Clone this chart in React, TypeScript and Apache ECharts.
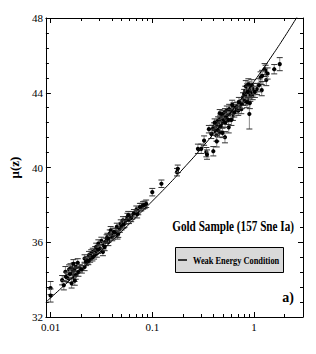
import React, { useEffect, useRef } from "react";
import * as echarts from "echarts";

// Supernova data (redshift z, distance modulus mu, error)
const zValues = [
  0.0100, 0.0100, 0.0130, 0.0135, 0.0140, 0.0142, 0.0150, 0.0152, 0.0157, 0.0161,
  0.0163, 0.0166, 0.0169, 0.0172, 0.0174, 0.0177, 0.0180, 0.0185, 0.0194, 0.0216,
  0.0216, 0.0223, 0.0231, 0.0239, 0.0245, 0.0251, 0.0260, 0.0268, 0.0275, 0.0281,
  0.0285, 0.0295, 0.0305, 0.0316, 0.0327, 0.0332, 0.0346, 0.0356, 0.0362, 0.0370,
  0.0382, 0.0390, 0.0404, 0.0413, 0.0433, 0.0448, 0.0455, 0.0463, 0.0480, 0.0490,
  0.0500, 0.0515, 0.0533, 0.0552, 0.0570, 0.0590, 0.0636, 0.0697, 0.0728, 0.0756,
  0.0780, 0.0811, 0.0871, 0.1000, 0.1230,
  0.0188, 0.0203, 0.0258, 0.0293, 0.0340, 0.0420, 0.0520, 0.0620, 0.0660, 0.0710,
  0.0840, 0.0155, 0.0173, 0.0168, 0.0235, 0.0370, 0.0580,
  0.175, 0.178, 0.281, 0.303, 0.323, 0.340, 0.345, 0.398, 0.389, 0.404,
  0.418, 0.427, 0.432, 0.443, 0.450, 0.458, 0.465, 0.475, 0.481, 0.491,
  0.500, 0.518, 0.518, 0.530, 0.540, 0.550, 0.564, 0.570, 0.590, 0.600,
  0.620, 0.630, 0.658, 0.680, 0.700, 0.730, 0.750, 0.760, 0.780, 0.800,
  0.810, 0.820, 0.840, 0.860, 0.870, 0.890, 0.900, 0.900, 0.920, 0.940,
  0.970, 0.980, 1.070, 1.190, 1.160, 1.320, 1.300, 1.270, 1.360, 1.580,
  1.790,
  0.41, 0.44, 0.47, 0.52, 0.46, 0.56, 0.61, 0.64, 0.71, 0.83,
  0.85, 0.88, 0.95, 0.87, 0.91, 0.38, 0.36, 0.43, 0.49, 0.60,
  1.02, 1.12, 1.20,
];
const muValues = [
  33.55, 33.15, 33.97, 33.70, 34.42, 34.15, 34.06, 34.54, 34.60, 33.80,
  34.33, 34.50, 34.68, 34.15, 34.50, 34.24, 34.68, 34.90, 34.60, 34.68,
  35.13, 34.95, 35.04, 35.31, 35.13, 35.40, 35.48, 35.30, 35.57, 35.75,
  35.40, 35.93, 35.66, 36.07, 35.48, 35.84, 36.02, 36.20, 36.28, 36.02,
  36.46, 36.64, 36.28, 36.37, 36.55, 36.82, 36.37, 36.46, 36.73, 37.00,
  36.86, 37.17, 37.00, 37.17, 37.35, 37.20, 37.44, 37.74, 37.67, 37.88,
  37.88, 37.97, 38.06, 38.68, 39.13,
  34.40, 34.55, 35.20, 35.60, 35.75, 36.55, 36.95, 37.30, 37.55, 37.50,
  38.00, 34.30, 33.95, 34.85, 35.00, 36.20, 37.45,
  39.75, 39.93, 41.00, 41.00, 41.44, 40.82, 40.69, 40.87, 42.06, 42.19,
  41.97, 41.71, 42.33, 42.51, 42.15, 41.88, 42.60, 42.77, 42.36, 42.86,
  42.54, 42.95, 41.62, 42.68, 43.04, 42.77, 42.15, 43.13, 42.86, 43.04,
  42.77, 43.22, 43.13, 43.25, 43.04, 43.31, 43.13, 43.40, 43.75, 43.93,
  43.57, 44.10, 43.84, 44.20, 43.66, 44.00, 44.28, 42.86, 43.84, 44.10,
  43.93, 44.20, 44.20, 44.14, 44.82, 44.68, 45.17, 45.26, 45.03, 45.26,
  45.53,
  42.40, 42.00, 42.20, 42.40, 42.90, 42.55, 43.35, 42.95, 43.50, 44.35,
  43.50, 44.45, 44.40, 44.05, 43.45, 41.80, 42.05, 41.40, 41.85, 42.55,
  44.05, 44.40, 44.90,
];
const muErrors = [
  0.35, 0.35, 0.25, 0.25, 0.28, 0.25, 0.22, 0.25, 0.25, 0.25,
  0.22, 0.22, 0.22, 0.25, 0.22, 0.22, 0.22, 0.22, 0.20, 0.20,
  0.20, 0.20, 0.20, 0.20, 0.20, 0.20, 0.20, 0.20, 0.20, 0.20,
  0.20, 0.20, 0.20, 0.20, 0.20, 0.20, 0.20, 0.20, 0.20, 0.20,
  0.20, 0.20, 0.20, 0.20, 0.20, 0.20, 0.20, 0.20, 0.20, 0.20,
  0.20, 0.20, 0.20, 0.20, 0.20, 0.20, 0.20, 0.20, 0.20, 0.20,
  0.20, 0.20, 0.20, 0.20, 0.20,
  0.22, 0.20, 0.20, 0.20, 0.20, 0.20, 0.20, 0.20, 0.20, 0.20,
  0.20, 0.25, 0.25, 0.22, 0.20, 0.20, 0.20,
  0.20, 0.20, 0.25, 0.25, 0.25, 0.25, 0.25, 0.25, 0.20, 0.20,
  0.25, 0.30, 0.20, 0.20, 0.20, 0.25, 0.20, 0.20, 0.20, 0.20,
  0.20, 0.20, 0.30, 0.25, 0.25, 0.25, 0.30, 0.25, 0.25, 0.25,
  0.25, 0.25, 0.25, 0.25, 0.25, 0.25, 0.25, 0.25, 0.25, 0.25,
  0.25, 0.25, 0.30, 0.30, 0.30, 0.30, 0.30, 0.80, 0.30, 0.30,
  0.30, 0.30, 0.30, 0.30, 0.30, 0.30, 0.30, 0.30, 0.30, 0.25,
  0.35,
  0.20, 0.20, 0.25, 0.25, 0.20, 0.25, 0.25, 0.25, 0.25, 0.30,
  0.30, 0.30, 0.30, 0.30, 0.30, 0.25, 0.20, 0.30, 0.25, 0.30,
  0.30, 0.35, 0.30,
];

// Weak Energy Condition curve
const lineZ = [0.009, 0.01, 0.015, 0.02, 0.03, 0.05, 0.07, 0.1, 0.15, 0.2, 0.3, 0.5, 0.7, 1.0, 1.5, 2.0, 2.6, 2.7];
const lineMu = [32.8, 33.02, 33.9, 34.53, 35.43, 36.58, 37.36, 38.2, 39.18, 39.92, 40.99, 42.45, 43.46, 44.6, 45.97, 47.0, 47.98, 48.12];

// Axis ticks
const xMajorTicks = [0.01, 0.1, 1];
const xTickLabels = ["0.01", "0.1", "1"];
const xMinorTicks = [
  0.02, 0.03, 0.04, 0.05, 0.06, 0.07, 0.08, 0.09,
  0.2, 0.3, 0.4, 0.5, 0.6, 0.7, 0.8, 0.9,
  2,
];
const yMin = 32;
const yMax = 48;
const yStep = 4;
const zMin = 0.009;
const zMax = 3.03;

const FONT = "Liberation Serif";

export default function App() {
  const ref = useRef<HTMLDivElement>(null);

  useEffect(() => {
    if (!ref.current) return;
    const chart = echarts.init(ref.current, null, { renderer: "svg" });
    const lg = (v: number) => Math.log10(v);
    const xmin = lg(zMin);
    const xmax = lg(zMax);
    const majorLog = xMajorTicks.map(lg);
    const minorLog = xMinorTicks.map(lg);
    const labelMap: Record<string, string> = {};
    majorLog.forEach((v, i) => (labelMap[v.toFixed(3)] = xTickLabels[i]));

    const baseX = {
      type: "value",
      min: xmin,
      max: xmax,
      splitLine: { show: false },
    };
    const xAxes = [
      {
        ...baseX,
        position: "bottom",
        axisLine: { show: true, onZero: false, lineStyle: { color: "#000", width: 1 } },
        axisTick: { show: true, inside: true, length: 5, customValues: majorLog, lineStyle: { color: "#000" } },
        axisLabel: {
          show: true,
          customValues: majorLog,
          formatter: (v: number) => labelMap[v.toFixed(3)] ?? "",
          color: "#000",
          fontFamily: FONT,
          fontSize: 11,
          margin: 4,
        },
      },
      {
        ...baseX,
        position: "bottom",
        axisLine: { show: false, onZero: false },
        axisTick: { show: true, inside: true, length: 3, customValues: minorLog, lineStyle: { color: "#000" } },
        axisLabel: { show: false },
      },
      {
        ...baseX,
        position: "top",
        axisLine: { show: true, onZero: false, lineStyle: { color: "#000", width: 1 } },
        axisTick: { show: true, inside: true, length: 5, customValues: majorLog, lineStyle: { color: "#000" } },
        axisLabel: { show: false },
      },
      {
        ...baseX,
        position: "top",
        axisLine: { show: false, onZero: false },
        axisTick: { show: true, inside: true, length: 3, customValues: minorLog, lineStyle: { color: "#000" } },
        axisLabel: { show: false },
      },
    ];
    const baseY = {
      type: "value",
      min: yMin,
      max: yMax,
      interval: yStep,
      splitLine: { show: false },
      minorSplitLine: { show: false },
      axisLine: { show: true, onZero: false, lineStyle: { color: "#000", width: 1 } },
      axisTick: { show: true, inside: true, length: 5, lineStyle: { color: "#000" } },
      minorTick: { show: true, splitNumber: 5, length: 3, lineStyle: { color: "#000" } },
    };
    const yAxes = [
      {
        ...baseY,
        position: "left",
        name: "μ(z)",
        nameLocation: "middle",
        nameGap: 14,
        nameRotate: 90,
        nameTextStyle: { fontFamily: FONT, fontWeight: "bold", fontSize: 13, color: "#000" },
        axisLabel: { show: true, color: "#000", fontFamily: FONT, fontSize: 11, margin: 3 },
      },
      {
        ...baseY,
        position: "right",
        axisLabel: { show: false },
      },
    ];

    const pts = zValues.map((z, i) => [lg(z), muValues[i], muErrors[i]]);
    const linePts = lineZ.map((z, i) => [lg(z), lineMu[i]]);

    chart.setOption({
      animation: false,
      grid: { left: 25, top: 18, right: 13, bottom: 37, containLabel: false },
      xAxis: xAxes,
      yAxis: yAxes,
      series: [
        {
          type: "custom",
          xAxisIndex: 0,
          yAxisIndex: 0,
          clip: true,
          data: pts,
          renderItem: (params: any, api: any) => {
            const x = api.value(0);
            const y = api.value(1);
            const e = api.value(2);
            const c = api.coord([x, y]);
            const hi = api.coord([x, y + e]);
            const lo = api.coord([x, y - e]);
            const cap = 3;
            return {
              type: "group",
              children: [
                { type: "line", shape: { x1: c[0], y1: hi[1], x2: c[0], y2: lo[1] }, style: { stroke: "#8c8c8c", lineWidth: 1 } },
                { type: "line", shape: { x1: c[0] - cap, y1: hi[1], x2: c[0] + cap, y2: hi[1] }, style: { stroke: "#333", lineWidth: 1 } },
                { type: "line", shape: { x1: c[0] - cap, y1: lo[1], x2: c[0] + cap, y2: lo[1] }, style: { stroke: "#333", lineWidth: 1 } },
                { type: "circle", shape: { cx: c[0], cy: c[1], r: 2.1 }, style: { fill: "#000" } },
              ],
            };
          },
        },
        {
          type: "line",
          name: "Weak Energy Condition",
          xAxisIndex: 0,
          yAxisIndex: 0,
          data: linePts,
          smooth: true,
          showSymbol: false,
          clip: true,
          lineStyle: { color: "#000", width: 1 },
          z: 3,
        },
      ],
      graphic: [
        {
          type: "text",
          x: 294,
          y: 227,
          scaleX: 0.8,
          style: {
            text: "Gold Sample (157 Sne Ia)",
            align: "right",
            verticalAlign: "middle",
            fontFamily: FONT,
            fontWeight: "bold",
            fontSize: 14,
            fill: "#000",
          },
        },
        {
          type: "rect",
          shape: { x: 175.5, y: 247.5, width: 108, height: 25 },
          style: { fill: "#d9d9d9", stroke: "#000", lineWidth: 1 },
        },
        {
          type: "line",
          shape: { x1: 178, y1: 260, x2: 187, y2: 260 },
          style: { stroke: "#000", lineWidth: 1.5 },
        },
        {
          type: "text",
          x: 193,
          y: 260,
          scaleX: 0.76,
          style: {
            text: "Weak Energy Condition",
            align: "left",
            verticalAlign: "middle",
            fontFamily: FONT,
            fontWeight: "bold",
            fontSize: 11,
            fill: "#000",
          },
        },
        {
          type: "text",
          x: 294,
          y: 297,
          style: {
            text: "a)",
            align: "right",
            verticalAlign: "middle",
            fontFamily: FONT,
            fontWeight: "bold",
            fontSize: 14,
            fill: "#000",
          },
        },
      ],
    });
    return () => chart.dispose();
  }, []);

  return (
    <div
      ref={ref}
      style={{ position: "absolute", left: 0, top: 0, width: 316, height: 354, background: "#fff" }}
    />
  );
}
